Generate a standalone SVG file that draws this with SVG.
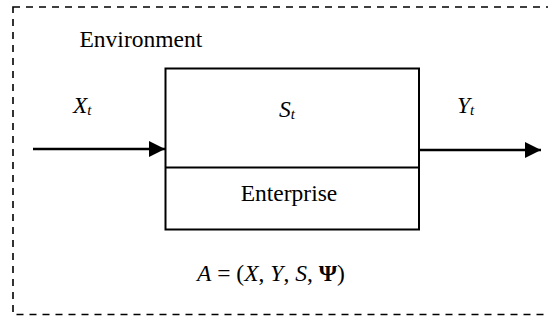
<svg xmlns="http://www.w3.org/2000/svg" width="548" height="320" viewBox="0 0 548 320">
<style>
.t{font-family:"Liberation Serif","Times New Roman",serif;font-size:23.5px;fill:#000}
.i{font-style:italic}
.sub{font-size:15px;font-style:italic}
.box{fill:#fff;stroke:#000;stroke-width:2}
.conn{stroke:#000;stroke-width:2.5;fill:none}
</style>
<defs>
<marker id="ah" markerWidth="16" markerHeight="16" viewBox="0 0 16 16" refX="16" refY="8" orient="auto" markerUnits="userSpaceOnUse">
<path d="M0,0 L16,8 L0,16 Z" fill="#000"/>
</marker>
</defs>
<rect x="13" y="7" width="560" height="307.5" fill="none" stroke="#000" stroke-width="1.6" stroke-dasharray="7 6"/>
<text class="t" x="79.5" y="47">Environment</text>
<g id="enterprise">
<rect class="box" x="165.5" y="68.5" width="253.5" height="161"/>
<line x1="165.5" y1="167.5" x2="419" y2="167.5" stroke="#000" stroke-width="2"/>
<text class="t i" x="279" y="117">S<tspan class="sub" dy="2">t</tspan></text>
<text class="t" x="289" y="201" text-anchor="middle">Enterprise</text>
</g>
<g id="connectors">
<line class="conn" x1="33" y1="149" x2="165" y2="149" marker-end="url(#ah)"/>
<line class="conn" x1="419" y1="150" x2="541" y2="150" marker-end="url(#ah)"/>
</g>
<text class="t i" x="73" y="113">X<tspan class="sub" dy="2">t</tspan></text>
<text class="t i" x="457" y="113">Y<tspan class="sub" dy="2">t</tspan></text>
<text class="t" x="197" y="281"><tspan class="i">A</tspan> = (<tspan class="i">X</tspan>, <tspan class="i">Y</tspan>, <tspan class="i">S</tspan>, <tspan font-weight="bold">Ψ</tspan>)</text>
</svg>
